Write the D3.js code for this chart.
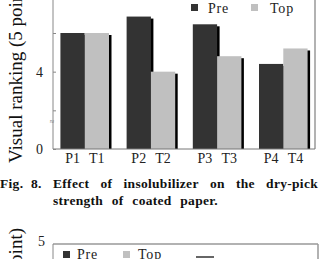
<!DOCTYPE html>
<html>
<head>
<meta charset="utf-8">
<script src="https://cdn.jsdelivr.net/npm/d3@7"></script>
<style>
  body { margin: 0; background: #fff; }
  svg { display: block; }
</style>
</head>
<body>
<div id="main"></div>
<script>
// values
const groups = ["1", "2", "3", "4"];
const seriesNames = ["Pre", "Top"];
const preVals = [6.0, 6.85, 6.45, 4.4];
const topVals = [6.0, 4.0, 4.8, 5.2];
const yTicks = [0, 2, 4, 6];
const yLabelled = [0, 4];
const nextTicks = [5];
const yTitle = "Visual ranking (5 point)";
const caption1 = ["Effect", "of", "insolubilizer", "on", "the", "dry-pick"];
const caption2 = ["strength", "of", "coated", "paper."];

const W = 322, H = 259;
const colors = { Pre: "#333333", Top: "#c0c0c0" };
const serif = "'Liberation Serif', 'Times New Roman', serif";

const svg = d3.select("#main").append("svg")
    .attr("width", W).attr("height", H);

// ---- upper chart ----
const left = 53, right = 315, base = 149;

const x0 = d3.scaleBand().domain(groups).range([left, right])
    .paddingInner(0.266).paddingOuter(0.112);
const x1 = d3.scaleBand().domain(seriesNames).range([0, x0.bandwidth()]);
const y = d3.scaleLinear().domain([0, 6]).range([base, 33]);

let bars = [];
groups.forEach((g, i) => {
    bars.push({ g: g, s: "Pre", v: preVals[i] });
    bars.push({ g: g, s: "Top", v: topVals[i] });
});

const plot = svg.append("g");

// frame
plot.append("line").attr("x1", right).attr("x2", right)
    .attr("y1", -5).attr("y2", base)
    .attr("stroke", "#999").attr("stroke-width", 1.5);

// bars with a little black shadow on the right
bars.forEach(d => {
    const bx = x0(d.g) + x1(d.s);
    plot.append("rect")
        .attr("x", bx + 2.5).attr("y", y(d.v) + 2)
        .attr("width", x1.bandwidth()).attr("height", base - y(d.v) - 2)
        .attr("fill", "#000");
    plot.append("rect")
        .attr("x", bx).attr("y", y(d.v))
        .attr("width", x1.bandwidth()).attr("height", base - y(d.v))
        .attr("fill", colors[d.s]);
});

plot.append("line").attr("x1", left).attr("x2", right)
    .attr("y1", base).attr("y2", base)
    .attr("stroke", "#777").attr("stroke-width", 1);

const yAxis = plot.append("g")
    .attr("transform", `translate(${left},0)`)
    .call(d3.axisLeft(y).tickValues(yTicks).tickSize(-3).tickPadding(10)
        .tickFormat(d => yLabelled.includes(d) ? d : ""));
yAxis.select(".domain").attr("stroke", "#888").attr("d", `M0,-5V${base}`);
yAxis.selectAll(".tick line").attr("stroke", "#888");
yAxis.selectAll("text").attr("font-family", serif).attr("font-size", 14).attr("fill", "#222");

// little break mark on the axis
plot.append("text").attr("x", left - 1).attr("y", 124)
    .attr("font-size", 8).attr("fill", "#777").attr("text-anchor", "middle")
    .attr("font-family", serif).text("≈");

// x labels
bars.forEach(d => {
    plot.append("text")
        .attr("x", x0(d.g) + x1(d.s) + x1.bandwidth() / 2)
        .attr("y", 163)
        .attr("text-anchor", "middle")
        .attr("font-family", serif).attr("font-size", 14).attr("fill", "#222")
        .text((d.s === "Pre" ? "P" : "T") + d.g);
});

// legend
const legend = [{ s: "Pre", x: 191, tx: 208 }, { s: "Top", x: 251, tx: 270 }];
legend.forEach(l => {
    plot.append("rect").attr("x", l.x).attr("y", 4).attr("width", 7).attr("height", 7)
        .attr("fill", colors[l.s]);
    plot.append("text").attr("x", l.tx).attr("y", 13)
        .attr("font-family", serif).attr("font-size", 14).attr("letter-spacing", 0.8)
        .attr("fill", "#222").text(l.s);
});

// y title
svg.append("text")
    .attr("transform", "translate(22,163) rotate(-90)")
    .attr("font-family", serif).attr("font-size", 19).attr("fill", "#111")
    .text(yTitle);

// ---- caption ----
const cap = svg.append("g").attr("font-family", serif).attr("font-weight", "bold")
    .attr("font-size", 13.5).attr("letter-spacing", 0.3).attr("fill", "#111");
cap.append("text").attr("x", 0).attr("y", 188).text("Fig.");
cap.append("text").attr("x", 31).attr("y", 188).text("8.");

function justify(words, xa, xb, yy) {
    const nodes = words.map(w => cap.append("text").attr("y", yy).text(w));
    const widths = nodes.map(n => n.node().getComputedTextLength());
    const gap = (xb - xa - d3.sum(widths)) / (words.length - 1);
    let cx = xa;
    nodes.forEach((n, i) => { n.attr("x", cx); cx += widths[i] + gap; });
}
justify(caption1, 53, 318, 188);
justify(caption2, 53, 218, 205);

// ---- lower chart (cut off) ----
const top2 = 244;
const y2 = d3.scaleLinear().domain([0, 5]).range([top2 + 150, top2]);
const low = svg.append("g");
low.append("line").attr("x1", left).attr("x2", 318).attr("y1", top2).attr("y2", top2)
    .attr("stroke", "#999").attr("stroke-width", 1.5);
low.append("line").attr("x1", 318).attr("x2", 318).attr("y1", top2).attr("y2", H + 5)
    .attr("stroke", "#999").attr("stroke-width", 1.5);
const yAxis2 = low.append("g").attr("transform", `translate(${left},0)`)
    .call(d3.axisLeft(y2).tickValues(nextTicks).tickSize(0).tickPadding(8)
        .tickFormat(d3.format("d")));
yAxis2.select(".domain").attr("stroke", "#888").attr("d", `M0,${top2}V${H + 5}`);
yAxis2.selectAll("text").attr("font-family", serif).attr("font-size", 14).attr("fill", "#222")
    .attr("dy", "0.1em");

const legend2 = [{ s: "Pre", x: 63, tx: 77 }, { s: "Top", x: 123, tx: 138 }];
legend2.forEach(l => {
    low.append("rect").attr("x", l.x).attr("y", 251).attr("width", 7).attr("height", 7)
        .attr("fill", colors[l.s]);
    low.append("text").attr("x", l.tx).attr("y", 259)
        .attr("font-family", serif).attr("font-size", 14).attr("letter-spacing", 0.8)
        .attr("fill", "#222").text(l.s);
});
low.append("line").attr("x1", 196).attr("x2", 214).attr("y1", 257).attr("y2", 257)
    .attr("stroke", "#333").attr("stroke-width", 1.5);

svg.append("text")
    .attr("transform", "translate(22,228) rotate(-90)")
    .attr("text-anchor", "end")
    .attr("font-family", serif).attr("font-size", 19).attr("fill", "#111")
    .text(yTitle);
</script>
</body>
</html>
